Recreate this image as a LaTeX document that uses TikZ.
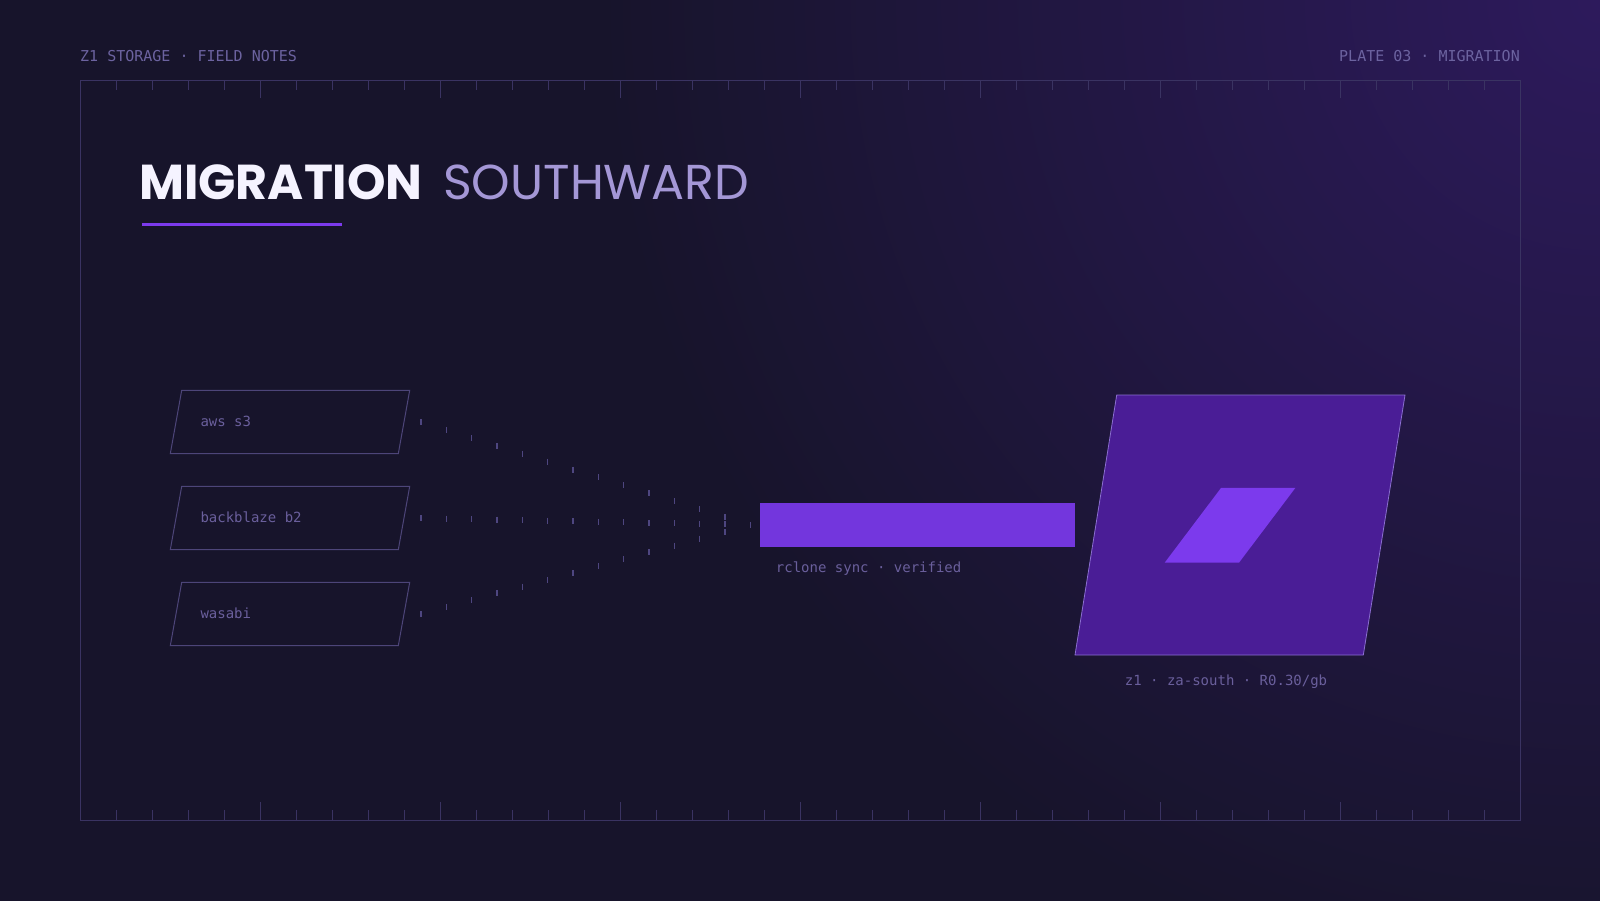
\documentclass[tikz,border=0pt]{standalone}
\usepackage{fontspec}
\setmonofont{DejaVu Sans Mono}
\newfontfamily\titlefont{Poppins}
\usetikzlibrary{calc,positioning}

\definecolor{bgc}{HTML}{17142B}
\definecolor{glowc}{HTML}{2D1A5C}
\definecolor{framec}{HTML}{3A3362}
\definecolor{headc}{HTML}{6C63A0}
\definecolor{labelc}{HTML}{6A5F9C}
\definecolor{tickc}{HTML}{4E4680}
\definecolor{barc}{HTML}{7336DD}
\definecolor{hubc}{HTML}{4A1D96}
\definecolor{hubedge}{HTML}{8B6FD0}
\definecolor{corec}{HTML}{7C3AED}
\definecolor{titlec}{HTML}{F5F3FF}
\definecolor{subc}{HTML}{A497D6}

\tikzset{
  frame/.style={draw=framec, line width=1pt},
  mono/.style={font=\ttfamily\fontsize{14}{16}\selectfont, text=labelc, inner sep=0pt},
  head/.style={font=\ttfamily\fontsize{15}{18}\selectfont, text=headc, inner sep=0pt},
  srcbox/.style={minimum width=228pt, minimum height=63.4pt, inner sep=0pt},
  srcline/.style={draw=framec!60!labelc, line width=1pt},
  hop/.style={draw=tickc, line width=1.3pt},
}

\begin{document}
\begin{tikzpicture}[x=1pt, y=-1pt]
  \useasboundingbox (0,0) rectangle (1600,900);
  % background
  \fill[bgc] (-5,-5) rectangle (1605,905);
  \begin{scope}
    \clip (-5,-5) rectangle (1605,905);
    \shade[inner color=glowc, outer color=bgc] (1600,0) circle (1000pt);
  \end{scope}

  % header and frame
  \node[head, anchor=base west] (lefthead) at (80,61) {Z1 STORAGE · FIELD NOTES};
  \node[head, anchor=base east] (righthead) at (1520,61) {PLATE 03 · MIGRATION};
  \draw[frame] (80,80) rectangle (1520,820);
  \foreach \i in {0,...,40}{
    \pgfmathsetmacro\tl{ifthenelse(mod(\i,5)==0,18,10)}
    \draw[frame] (80+36*\i,80) -- ++(0,\tl);
    \draw[frame] (80+36*\i,820) -- ++(0,-\tl);
  }

  % title
  \node[anchor=base west, inner sep=0pt, text=titlec, font=\titlefont\bfseries\fontsize{49}{54}\selectfont] (title) at (139,199) {MIGRATION};
  \node[anchor=base west, inner sep=0pt, text=subc, font=\titlefont\fontsize{49}{54}\selectfont] (subtitle) at (443,199) {SOUTHWARD};
  \draw[corec, line width=3pt] (141.8,224.5) -- (341.8,224.5);

  % sources
  \node[srcbox] (aws) at (290,422) {};
  \node[srcbox] (backblaze) at (290,518) {};
  \node[srcbox] (wasabi) at (290,614) {};
  \foreach \s in {aws,backblaze,wasabi}
    \draw[srcline, shift={(\s.center)}, xslant=0.18] (-114,-31.7) rectangle (114,31.7);
  \node[mono, anchor=base west] at (200.3,426.5) {aws s3};
  \node[mono, anchor=base west] at (200.3,522.5) {backblaze b2};
  \node[mono, anchor=base west] at (200.3,618.5) {wasabi};

  % hops into the pipe
  \coordinate (join) at (750.3,525);
  \foreach \s in {aws,backblaze,wasabi}{
    \coordinate (\s-out) at ([xshift=16.7pt]\s.east);
    \foreach \k in {0,...,13}
      \draw[hop] ($(\s-out)!\k/13!(join)$) ++(0,-3) -- ++(0,6);
  }

  % pipe
  \node[fill=barc, minimum width=315pt, minimum height=44pt, inner sep=0pt] (sync) at (917.5,525) {};
  \node[mono, anchor=base west] (synclabel) at (775.7,572.7) {rclone sync · verified};

  % destination
  \node[minimum width=288.3pt, minimum height=260pt, inner sep=0pt] (z1) at (1240,525) {};
  \draw[fill=hubc, draw=hubedge, line width=0.8pt, shift={(z1.center)}, xslant=0.1604] (-144.15,-130) rectangle (144.15,130);
  \node[minimum width=74.3pt, minimum height=74.7pt, inner sep=0pt] (core) at (1230,525.3) {};
  \fill[corec, shift={(core.center)}, xslant=0.754] (-37.15,-37.35) rectangle (37.15,37.35);
  \node[mono, anchor=base] (z1label) at (1226,685.7) {z1 · za-south · R0.30/gb};
\end{tikzpicture}
\end{document}
